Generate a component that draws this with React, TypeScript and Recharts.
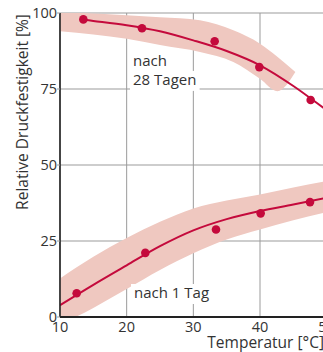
import {
  ComposedChart,
  Line,
  Area,
  XAxis,
  YAxis,
  CartesianGrid,
  ReferenceDot,
} from "recharts";

// fitted curves
const curve28Temps = [13.5, 15, 20, 25, 30, 35, 40, 45, 50, 52];
const curve28 = [97.8, 97.4, 96.0, 94.0, 91.0, 87.5, 82.8, 76.0, 68.0, 64.8];
const curve1Temps = [10, 15, 20, 25, 30, 35, 40, 45, 50, 52];
const curve1 = [3.9, 10.6, 17.0, 23.3, 28.5, 32.2, 34.9, 37.0, 39.2, 40.1];

// measured values
const sample28Temps = [13.5, 22.3, 33.2, 39.9, 47.6];
const sample28 = [97.9, 95.0, 90.7, 82.2, 71.4];
const sample1Temps = [12.5, 22.8, 33.4, 40.1, 47.5];
const sample1 = [7.8, 21.1, 28.8, 34.1, 37.8];

// scatter bands
const band28Temps = [10, 20, 25, 31, 36, 40, 42.6, 45.3];
const band28Low = [94.0, 91.5, 89.5, 87.2, 83.9, 78.4, 74.3, 80.6];
const band28High = [100.3, 99.3, 98.6, 97.6, 94.3, 89.9, 85.6, 80.6];
const band1Temps = [10, 15, 20, 25, 30, 35, 40, 45, 50, 52];
const band1Low = [-2.5, 3.0, 9.2, 15.5, 21.0, 25.5, 28.8, 31.8, 34.5, 35.5];
const band1High = [12.7, 19.8, 26.0, 31.3, 35.7, 38.3, 40.3, 42.6, 44.7, 45.5];

const xTicks = [10, 20, 30, 40, 50];
const yTicks = [0, 25, 50, 75, 100];

const notes = [
  { x: 20.95, y: 82.6, lines: ["nach", "28 Tagen"] },
  { x: 21.1, y: 6.25, lines: ["nach 1 Tag"] },
];

const RED = "#c40a3c";
const PINK = "#efc8c0";
const TEXT = "#333";

const toPoints = (xs: number[], ys: number[]) => xs.map((x, i) => ({ x, y: ys[i] }));
const toRange = (xs: number[], lo: number[], hi: number[]) =>
  xs.map((x, i) => ({ x, range: [lo[i], hi[i]] }));

const noteLabel = (lines: string[]) => (props: any) => {
  const { x, y } = props.viewBox;
  return (
    <g>
      {lines.map((t, i) => (
        <g key={t}>
          <rect x={x - 3} y={y + i * 19 - 14} width={t.length * 8.2 + 4} height={20} fill="#fff" />
          <text x={x} y={y + i * 19} fontSize={15} fill={TEXT}>
            {t}
          </text>
        </g>
      ))}
    </g>
  );
};

export default function App() {
  return (
    <div
      style={{
        position: "absolute",
        left: 0,
        top: 0,
        width: 323,
        height: 352,
        overflow: "hidden",
        background: "#fff",
        fontFamily: "'Open Sans', sans-serif",
      }}
    >
      <ComposedChart width={340} height={352} margin={{ top: 13, right: 0, bottom: 0, left: 0 }}>
        <CartesianGrid stroke="#9b9b9b" strokeWidth={1} />
        <XAxis
          type="number"
          dataKey="x"
          domain={[10, 52]}
          ticks={xTicks}
          allowDataOverflow
          height={35}
          tickLine={false}
          tickSize={0}
          tickMargin={5}
          axisLine={{ stroke: "#222", strokeWidth: 2 }}
          tick={{ fill: TEXT, fontSize: 14.5 }}
          label={() => (
            <text x={324} y={348} textAnchor="end" fontSize={15.5} fill={TEXT}>
              Temperatur [°C]
            </text>
          )}
        />
        <YAxis
          type="number"
          domain={[0, 100]}
          ticks={yTicks}
          allowDataOverflow
          width={60}
          tickSize={3}
          tickMargin={0}
          tickLine={{ stroke: "#9b9b9b" }}
          axisLine={{ stroke: "#222", strokeWidth: 1.6 }}
          tick={{ fill: TEXT, fontSize: 14.5 }}
          label={() => (
            <text
              x={22}
              y={112}
              transform="rotate(-90 22 112)"
              textAnchor="middle"
              dominantBaseline="central"
              fontSize={15.5}
              fill={TEXT}
            >
              Relative Druckfestigkeit [%]
            </text>
          )}
        />
        <Area
          data={toRange(band28Temps, band28Low, band28High)}
          dataKey="range"
          type="monotone"
          stroke="none"
          fill={PINK}
          fillOpacity={1}
          isAnimationActive={false}
        />
        <Area
          data={toRange(band1Temps, band1Low, band1High)}
          dataKey="range"
          type="monotone"
          stroke="none"
          fill={PINK}
          fillOpacity={1}
          isAnimationActive={false}
        />
        {notes.map((n) => (
          <ReferenceDot
            key={n.lines[0] + n.y}
            x={n.x}
            y={n.y}
            r={0}
            fill="none"
            stroke="none"
            ifOverflow="visible"
            label={noteLabel(n.lines)}
          />
        ))}
        <Line
          data={toPoints(curve28Temps, curve28)}
          dataKey="y"
          type="monotone"
          stroke={RED}
          strokeWidth={2}
          dot={false}
          isAnimationActive={false}
        />
        <Line
          data={toPoints(curve1Temps, curve1)}
          dataKey="y"
          type="monotone"
          stroke={RED}
          strokeWidth={2}
          dot={false}
          isAnimationActive={false}
        />
        <Line
          data={toPoints(sample28Temps, sample28)}
          dataKey="y"
          stroke="none"
          dot={{ r: 4.3, fill: RED, stroke: "none" }}
          isAnimationActive={false}
        />
        <Line
          data={toPoints(sample1Temps, sample1)}
          dataKey="y"
          stroke="none"
          dot={{ r: 4.3, fill: RED, stroke: "none" }}
          isAnimationActive={false}
        />
      </ComposedChart>
    </div>
  );
}
